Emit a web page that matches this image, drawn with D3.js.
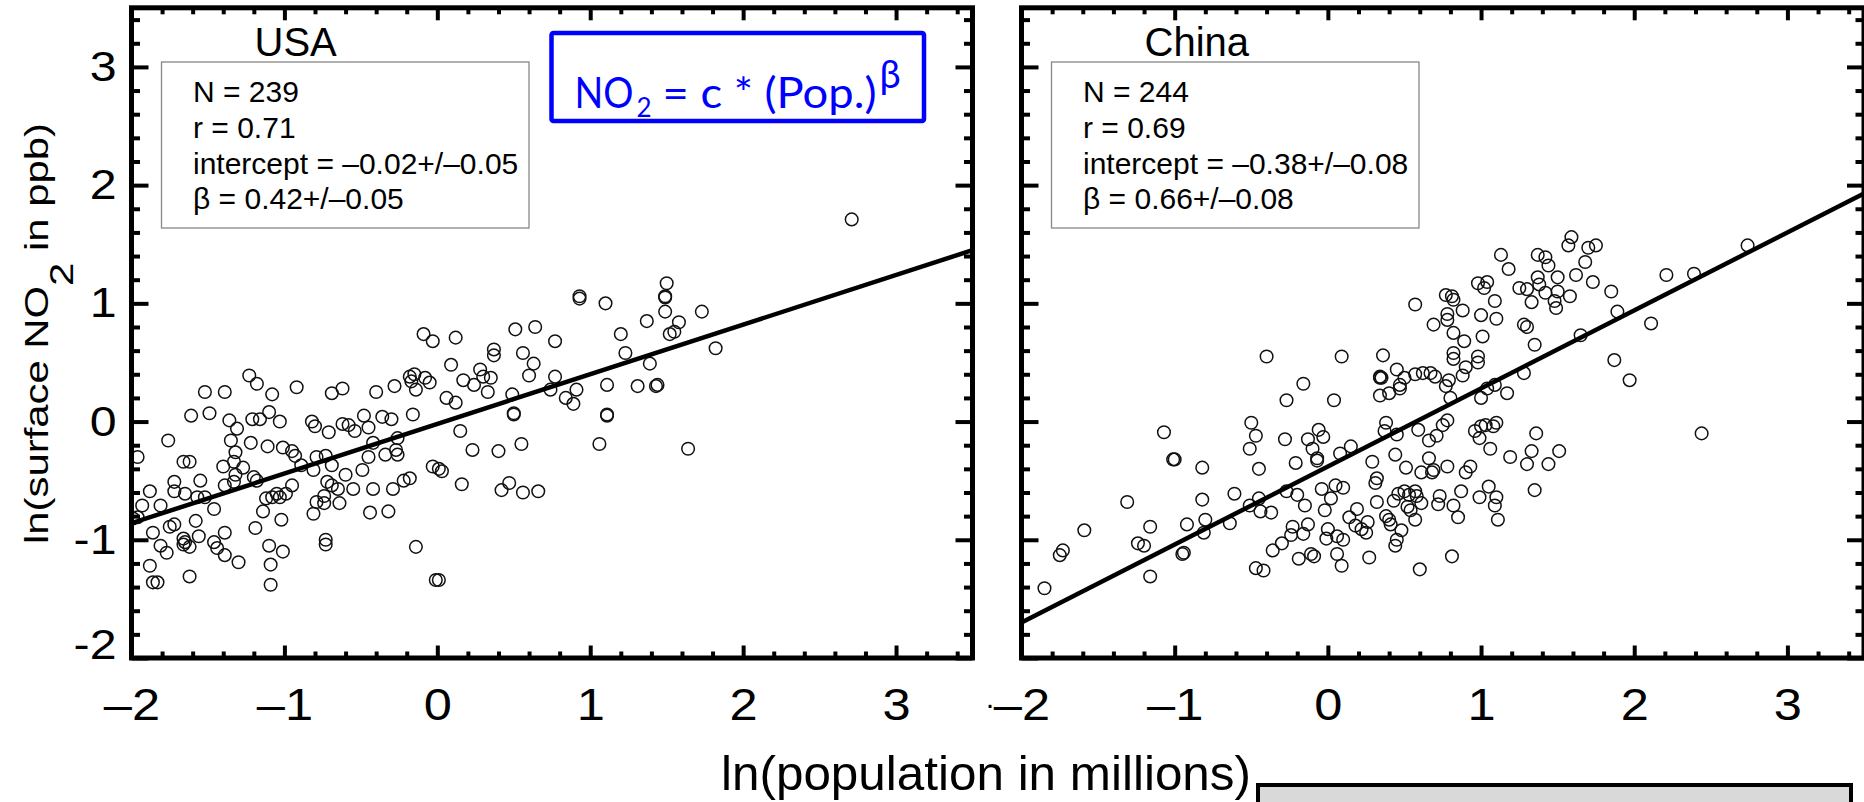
<!DOCTYPE html>
<html>
<head>
<meta charset="utf-8">
<script src="https://cdn.jsdelivr.net/npm/d3@7"></script>
<style>
  html, body { margin: 0; padding: 0; background: #fff; }
  svg { display: block; }
  .sans { font-family: "Liberation Sans", Arial, Helvetica, sans-serif; }
</style>
</head>
<body>
<svg id="fig" width="1864" height="802"></svg>
<script>
// ---- data: ln(population in millions) vs ln(surface NO2 in ppb) ----
const usaX = [-0.09,-0.03,0.12,0.51,0.64,0.77,0.09,0.37,0.37,0.56,0.63,0.60,0.28,0.30,0.35,0.17,0.24,0.33,0.49,0.74,
  0.77,0.84,0.06,0.12,-0.18,-0.15,-0.17,-0.08,-0.05,-0.14,-0.28,-0.40,-0.16,0.50,0.50,0.15,0.23,0.40,0.55,-0.03,
  0.01,0.03,0.16,0.42,0.47,0.56,0.66,-0.22,-0.18,-0.29,-0.42,-0.55,-0.44,-0.32,-0.14,-0.01,0.01,-1.23,-1.18,-1.08,
  -0.92,-0.69,-0.62,-1.52,-1.39,-1.61,-1.49,-1.36,-1.31,-1.21,-1.16,-1.10,-1.03,-0.82,-0.80,-0.71,-0.62,-0.58,-0.54,-0.48,
  -0.45,-0.36,-0.30,-1.76,-1.35,-1.22,-1.11,-1.01,-0.95,-0.93,-1.96,-1.66,-1.62,-1.40,-1.32,-1.33,-1.27,-0.79,-0.73,-0.69,
  -0.42,-0.45,-0.34,-0.27,-0.26,-0.26,-0.89,-0.81,-0.60,-0.49,-1.72,-1.72,-1.65,-1.55,-1.57,-1.52,-1.39,-1.33,-1.32,-1.20,
  -1.18,-1.88,-1.93,-1.81,-1.96,-1.99,-1.12,-1.08,-1.05,-1.03,-0.99,-0.95,-0.72,-0.69,-0.65,-0.79,-0.74,-0.74,-0.64,-0.81,
  -1.14,-1.02,-1.46,-1.58,-1.75,-1.72,-1.86,-1.81,-1.77,-1.66,-1.65,-1.66,-1.62,-1.56,-1.46,-1.44,-1.39,-1.39,-1.30,-1.19,
  -1.10,-1.01,-1.09,-0.73,-0.73,-1.88,-1.86,-1.83,-1.62,-1.09,2.71,0.93,0.93,1.10,1.50,1.49,1.49,1.49,1.37,1.58,
  1.73,1.52,1.55,1.20,1.23,1.39,1.82,0.91,0.89,1.11,1.11,1.11,1.31,1.43,1.44,1.06,1.64];
const usaY = [0.74,0.68,0.71,0.78,0.80,0.68,0.48,0.61,0.56,0.58,0.49,0.39,0.44,0.38,0.37,0.35,0.31,0.25,0.23,0.27,
  0.38,0.20,0.20,0.16,0.38,0.40,0.34,0.37,0.33,0.27,0.30,0.25,0.06,0.06,0.07,-0.08,-0.24,-0.25,-0.19,-0.38,
  -0.40,-0.42,-0.53,-0.58,-0.52,-0.60,-0.59,-0.50,-0.48,-0.57,-0.57,-0.57,-0.77,-0.76,-1.06,-1.34,-1.34,0.39,0.32,0.23,
  0.29,0.24,0.28,0.25,0.25,0.05,0.07,0.01,-0.06,0.02,0.02,0.08,0.00,0.00,-0.04,-0.09,-0.02,-0.03,-0.08,0.05,
  -0.05,0.04,0.02,-0.16,-0.16,-0.18,-0.21,-0.22,-0.25,-0.29,-0.30,-0.34,-0.34,-0.38,-0.26,-0.34,-0.39,-0.30,-0.29,-0.37,
  -0.18,-0.30,-0.28,-0.24,-0.14,-0.28,-0.37,-0.41,-0.45,-0.41,-0.51,-0.59,-0.61,-0.50,-0.64,-0.64,-0.54,-0.51,-0.45,-0.47,
  -0.50,-0.59,-0.71,-0.71,-0.81,-0.82,-0.65,-0.64,-0.61,-0.64,-0.61,-0.54,-0.51,-0.54,-0.57,-0.68,-0.69,-0.63,-0.69,-0.78,
  -0.76,-0.83,-0.74,-0.84,-0.89,-0.87,-0.94,-1.05,-1.11,-0.99,-1.02,-1.04,-1.06,-0.97,-1.02,-1.07,-0.94,-1.13,-1.19,-0.90,
  -1.05,-1.10,-1.21,-1.00,-1.04,-1.22,-1.36,-1.36,-1.31,-1.38,1.71,1.06,1.04,1.00,1.17,1.06,1.05,0.93,0.85,0.84,
  0.93,0.74,0.76,0.74,0.58,0.49,0.62,0.27,0.15,0.31,0.06,0.05,0.30,0.30,0.31,-0.19,-0.23];

const chinaX = [0.57,0.69,0.77,0.81,0.82,0.78,0.78,0.88,0.82,0.89,1.00,1.01,0.98,1.02,1.04,1.09,1.10,-0.40,0.09,0.36,
  -0.16,-0.27,0.04,0.34,0.35,0.45,0.50,0.47,0.47,0.40,0.34,0.57,0.62,0.67,0.70,0.79,0.77,0.80,0.82,0.82,
  0.90,0.88,0.98,0.98,1.00,1.04,1.09,0.38,0.37,0.45,0.59,0.66,0.71,0.75,0.78,0.96,0.99,1.00,1.03,1.08,
  1.06,1.10,0.44,0.51,0.29,0.66,0.61,0.68,0.69,0.78,0.90,0.93,0.32,0.31,0.32,0.43,0.46,0.50,0.53,0.57,
  0.58,0.61,0.52,0.54,0.57,0.38,0.40,0.41,0.48,0.45,0.44,0.27,0.60,0.81,0.73,0.72,0.82,0.87,0.85,1.05,
  0.99,1.10,1.09,1.11,0.14,0.18,0.19,0.26,0.25,0.22,0.15,0.08,0.05,0.10,0.02,-0.04,-0.02,0.00,-0.01,0.06,
  0.10,0.06,0.09,-0.07,-0.06,-0.03,-0.13,-0.10,-0.07,-0.21,-0.28,-0.27,-0.20,-0.15,-0.13,-0.16,-0.23,-0.24,-0.30,-0.36,
  -0.19,-0.11,-0.09,-0.47,-0.42,-0.50,-0.47,-0.51,-0.45,-0.45,-0.51,-0.44,-0.37,-0.61,-0.64,-0.82,-0.80,-0.81,-0.92,-0.94,
  -0.95,-0.82,-1.00,-1.01,-1.07,-1.16,-1.16,-1.24,-1.20,-1.31,-1.59,-1.73,-1.75,-1.85,1.59,1.57,1.70,1.75,1.68,1.73,
  1.62,1.13,1.18,1.37,1.42,1.44,1.50,1.37,1.38,1.42,1.50,1.48,1.49,1.58,1.25,1.30,1.33,1.28,1.30,1.35,
  1.85,1.89,2.11,2.21,2.39,2.74,1.65,1.87,1.97,2.44,1.28,1.17,1.36,1.33,1.51,1.19,1.30,1.44,1.35,0.34];
const chinaY = [0.99,0.82,1.07,1.06,1.03,0.91,0.86,0.94,0.75,0.68,0.90,0.72,1.17,1.13,1.18,1.02,0.87,0.55,0.55,0.56,
  0.32,0.18,0.18,0.38,0.37,0.44,0.37,0.31,0.28,0.24,0.22,0.40,0.41,0.41,0.38,0.35,0.30,0.20,0.58,0.53,
  0.46,0.39,0.55,0.50,0.20,0.28,0.31,-0.01,-0.08,-0.11,-0.07,-0.16,-0.12,-0.03,0.01,-0.08,-0.14,-0.04,-0.03,-0.04,
  -0.23,-0.01,-0.28,-0.39,-0.34,-0.31,-0.43,-0.43,-0.41,-0.38,-0.43,-0.38,-0.48,-0.52,-0.68,-0.67,-0.61,-0.59,-0.62,-0.59,
  -0.63,-0.69,-0.72,-0.75,-0.83,-0.80,-0.83,-0.87,-0.92,-1.00,-1.05,-1.15,-1.25,-1.14,-0.63,-0.70,-0.71,-0.59,-0.81,-0.55,
  -0.64,-0.64,-0.71,-0.83,-0.81,-0.88,-0.74,-0.85,-0.94,-0.91,-0.21,-0.27,-0.54,-0.56,-0.65,-0.57,-0.75,-0.91,-0.99,-0.97,
  -1.00,-1.12,-1.22,-0.33,-0.07,-0.13,-0.15,-0.23,-0.31,-0.35,-0.15,-0.59,-0.62,-0.71,-0.87,-0.95,-0.89,-0.96,-1.03,-1.09,
  -1.16,-1.12,-1.14,-1.24,-1.26,-0.01,-0.12,-0.23,-0.40,-0.65,-0.71,-0.76,-0.77,-0.61,-0.86,-0.66,-0.83,-0.94,-0.87,-1.11,
  -1.12,-0.39,-0.32,-0.32,-0.09,-0.89,-1.31,-1.03,-1.05,-0.68,-0.92,-1.09,-1.13,-1.41,1.56,1.49,1.47,1.49,1.35,1.18,
  1.24,1.41,1.29,1.41,1.39,1.32,1.22,1.22,1.16,1.09,1.10,1.02,0.96,1.06,1.13,1.12,1.01,0.82,0.80,0.65,
  1.10,0.93,0.83,1.24,1.25,1.49,0.73,0.52,0.35,-0.10,0.41,0.24,-0.10,-0.25,-0.25,-0.30,-0.36,-0.36,-0.58,0.37];

// least-squares fits: ln(NO2) = intercept + beta * ln(Pop)
const usaFit = { intercept: -0.02, beta: 0.42 };
const chinaFit = { intercept: -0.38, beta: 0.66 };

const usaStats = ["N = 239", "r = 0.71", "intercept = \u20130.02+/\u20130.05", "\u03b2 = 0.42+/\u20130.05"];
const chinaStats = ["N = 244", "r = 0.69", "intercept = \u20130.38+/\u20130.08", "\u03b2 = 0.66+/\u20130.08"];

const xMajor = [-2, -1, 0, 1, 2, 3];
const yMajor = [-2, -1, 0, 1, 2, 3];
const xMinor = d3.range(-10, 18).filter(i => i % 5 !== 0).map(i => i / 5);
const yMinor = d3.range(-10, 18).filter(i => i % 5 !== 0).map(i => i / 5);

const xTitle = "ln(population in millions)";

// ---- layout ----
const svg = d3.select("#fig");
const plotTop = 7.8, plotBottom = 658;
const y = d3.scaleLinear().domain([-2, 3.5]).range([plotBottom, plotTop]);

const panels = [
  { key: "usa", title: "USA", xs: usaX, ys: usaY, fit: usaFit, stats: usaStats, left: 131.5, right: 972.5, yLabels: true },
  { key: "china", title: "China", xs: chinaX, ys: chinaY, fit: chinaFit, stats: chinaStats, left: 1021.5, right: 1864, yLabels: false }
];

const minusX = d => (d < 0 ? "\u2013" + Math.abs(d) : String(d));
const minusY = d => (d < 0 ? "-" + Math.abs(d) : String(d));

panels.forEach(p => {
  const x = d3.scaleLinear().domain([-2, 3.5]).range([p.left, p.right]);
  const g = svg.append("g").attr("class", "panel " + p.key);

  svg.append("clipPath").attr("id", "clip-" + p.key)
    .append("rect").attr("x", p.left).attr("y", plotTop)
    .attr("width", p.right - p.left).attr("height", plotBottom - plotTop);

  // scatter
  const pts = d3.zip(p.xs, p.ys);
  g.append("g").attr("clip-path", `url(#clip-${p.key})`)
    .selectAll("circle").data(pts).join("circle")
    .attr("cx", d => x(d[0])).attr("cy", d => y(d[1]))
    .attr("r", 6.3).attr("fill", "none")
    .attr("stroke", "#111").attr("stroke-width", 1.5);

  // regression line
  const line = d3.line().x(d => x(d)).y(d => y(p.fit.intercept + p.fit.beta * d));
  g.append("path").attr("clip-path", `url(#clip-${p.key})`)
    .attr("d", line([-2, 3.5]))
    .attr("fill", "none").attr("stroke", "#000").attr("stroke-width", 4.5);

  // inward ticks on all four sides
  const tickStyle = sel => {
    sel.select(".domain").remove();
    sel.selectAll(".tick line").attr("stroke", "#000").attr("stroke-width", 4);
  };
  const addAxis = (axis, tx, ty) =>
    g.append("g").attr("transform", `translate(${tx},${ty})`).call(axis).call(tickStyle);

  addAxis(d3.axisBottom(x).tickValues(xMinor).tickSize(-6.5).tickFormat(""), 0, plotBottom);
  addAxis(d3.axisTop(x).tickValues(xMinor).tickSize(-6.5).tickFormat(""), 0, plotTop);
  addAxis(d3.axisTop(x).tickValues(xMajor).tickSize(-12.5).tickFormat(""), 0, plotTop);
  addAxis(d3.axisLeft(y).tickValues(yMinor).tickSize(-8.5).tickFormat(""), p.left, 0);
  addAxis(d3.axisRight(y).tickValues(yMinor).tickSize(-8.5).tickFormat(""), p.right, 0);
  addAxis(d3.axisRight(y).tickValues(yMajor).tickSize(-17).tickFormat(""), p.right, 0);

  // x tick labels: slightly wide digits
  const xAx = addAxis(d3.axisBottom(x).tickValues(xMajor).tickSize(-12.5).tickPadding(31).tickFormat(minusX), 0, plotBottom);
  xAx.selectAll("text").attr("class", "sans").attr("font-size", 44).attr("fill", "#000")
    .attr("font-family", null).attr("transform", "scale(1.15,1)");

  const yAx = addAxis(d3.axisLeft(y).tickValues(yMajor).tickSize(-17).tickPadding(13)
    .tickFormat(p.yLabels ? minusY : ""), p.left, 0);
  yAx.selectAll("text").attr("class", "sans").attr("font-size", 42).attr("fill", "#000")
    .attr("font-family", null).attr("transform", "scale(1.15,1)");
  // lowest label sits above the corner
  yAx.selectAll(".tick").filter(d => d === -2).select("text").attr("y", -13);

  // frame
  g.append("rect").attr("x", p.left).attr("y", plotTop)
    .attr("width", p.right - p.left).attr("height", plotBottom - plotTop)
    .attr("fill", "none").attr("stroke", "#000").attr("stroke-width", 5);

  // country name
  g.append("text").attr("class", "sans").attr("x", p.left + 123).attr("y", 55.5)
    .attr("font-size", 40).text(p.title);

  // statistics box
  g.append("rect").attr("x", p.left + 30).attr("y", 62)
    .attr("width", 367.5).attr("height", 166)
    .attr("fill", "#fff").attr("stroke", "#888").attr("stroke-width", 1.3);
  g.selectAll("text.stat").data(p.stats).join("text")
    .attr("class", "sans stat")
    .attr("x", p.left + 61.5).attr("y", (d, i) => 102 + i * 35.8)
    .attr("font-size", 30).text(d => d);
});

// stray dot left of the China "-2" label
svg.append("text").attr("class", "sans").attr("x", 990).attr("y", 714)
  .attr("font-size", 30).attr("text-anchor", "middle").text("\u00b7");

// power-law formula in blue box
const fx = panels[0].left;
svg.append("rect").attr("x", fx + 420).attr("y", 33).attr("width", 372.5).attr("height", 88)
  .attr("rx", 2).attr("fill", "#fff").attr("stroke", "#0000ff").attr("stroke-width", 4.5);
const formulaFont = "Lato, 'Open Sans', 'Noto Sans', sans-serif";
svg.append("text").attr("x", fx + 443).attr("y", 108.3).attr("font-family", formulaFont)
  .attr("font-size", 42).attr("fill", "#0000ff").attr("textLength", 59).attr("lengthAdjust", "spacingAndGlyphs")
  .text("NO");
svg.append("text").attr("x", fx + 505).attr("y", 117).attr("font-family", formulaFont)
  .attr("font-size", 26).attr("fill", "#0000ff").text("2");
svg.append("text").attr("x", fx + 531).attr("y", 108.3).attr("font-family", formulaFont)
  .attr("font-size", 42).attr("fill", "#0000ff").attr("textLength", 214).attr("lengthAdjust", "spacingAndGlyphs")
  .text("= c * (Pop.)");
svg.append("text").attr("x", fx + 748).attr("y", 88).attr("font-family", formulaFont)
  .attr("font-size", 38).attr("fill", "#0000ff").text("\u03b2");

// y-axis title
const yt = svg.append("text").attr("class", "sans")
  .attr("transform", "translate(48,544) rotate(-90)")
  .attr("font-size", 33).attr("textLength", 421).attr("lengthAdjust", "spacingAndGlyphs");
yt.append("tspan").text("ln(surface NO");
yt.append("tspan").attr("dy", 25).text("2");
yt.append("tspan").attr("dy", -25).text(" in ppb)");

// x-axis title
svg.append("text").attr("class", "sans").attr("x", 721).attr("y", 790)
  .attr("font-size", 49).attr("textLength", 530).attr("lengthAdjust", "spacingAndGlyphs")
  .text(xTitle);

// grey box at bottom right
svg.append("rect").attr("x", 1258).attr("y", 785).attr("width", 593).attr("height", 40)
  .attr("fill", "#d9d9d9").attr("stroke", "#000").attr("stroke-width", 4);
</script>
</body>
</html>
